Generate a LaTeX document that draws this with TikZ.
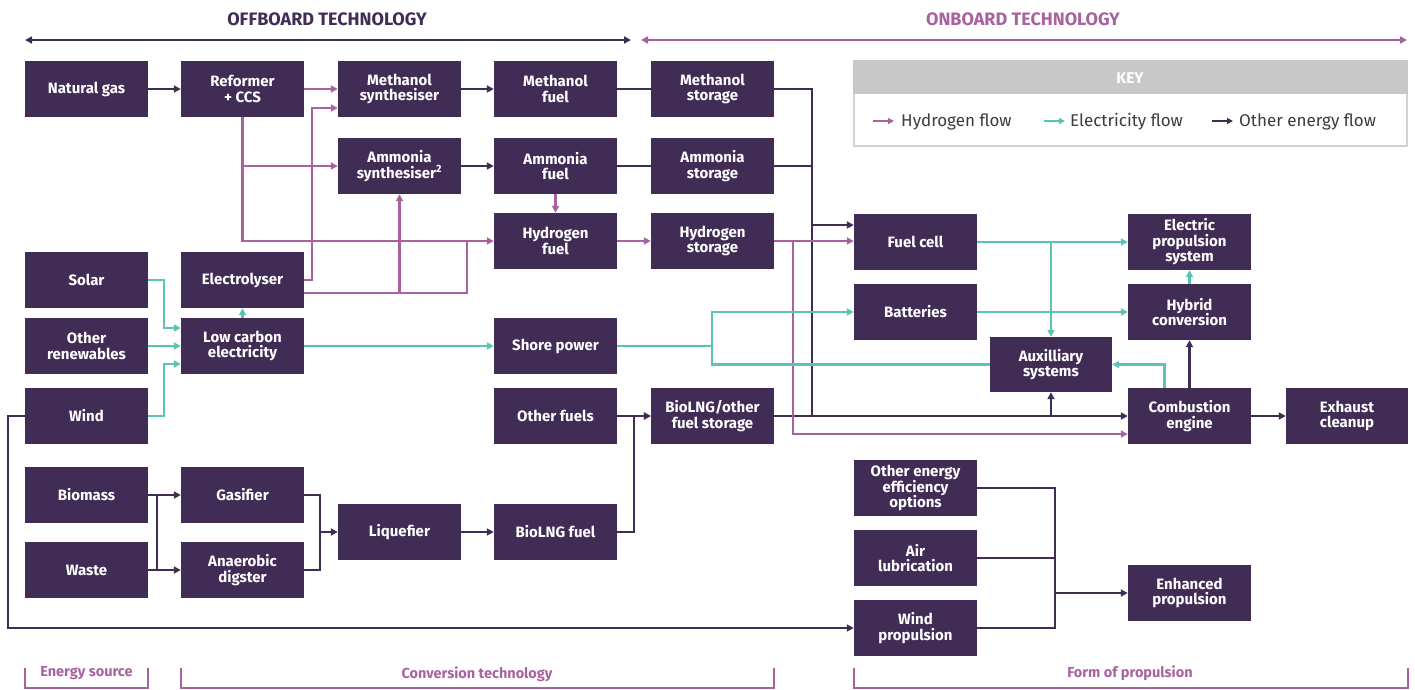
\documentclass[tikz,border=0pt]{standalone}
\usepackage{fontspec}
\setmainfont{Fira Sans}
\usetikzlibrary{arrows.meta,calc}
\definecolor{boxc}{HTML}{412C56}
\definecolor{pinkc}{HTML}{A8629F}
\definecolor{tealc}{HTML}{5BC3B4}
\definecolor{keygray}{HTML}{C8C8C8}
\definecolor{keyline}{HTML}{D2D2D2}
\definecolor{keytext}{HTML}{3C3C3C}
\tikzset{
  box/.style={fill=boxc,text=white,minimum width=123pt,minimum height=56pt,inner sep=0pt,align=center,
    font=\bfseries\fontsize{15}{15.5}\selectfont},
  tip/.style={-{Triangle[length=7pt,width=7pt]}},
  oth/.style={draw=boxc,line width=2.3pt},
  hyd/.style={draw=pinkc,line width=2.3pt},
  ele/.style={draw=tealc,line width=2.3pt},
  brk/.style={draw=pinkc,line width=2pt},
  brktext/.style={text=pinkc,font=\bfseries\fontsize{14.5}{16}\selectfont},
  keyitem/.style={text=keytext,anchor=west,font=\fontsize{17}{19}\selectfont,inner sep=0pt},
}
\begin{document}
\begin{tikzpicture}[x=1pt,y=-1pt]
\useasboundingbox (0,0) rectangle (1415,689);
% titles
\node[text=boxc,font=\bfseries\fontsize{18}{20}\selectfont] (toff) at (327,19) {OFFBOARD TECHNOLOGY};
\node[text=pinkc,font=\bfseries\fontsize{18}{20}\selectfont] (ton) at (1023,19) {ONBOARD TECHNOLOGY};
\coordinate (offL) at (25,40); \coordinate (offR) at (631,40);
\coordinate (onL) at (641,40); \coordinate (onR) at (1407,40);
\draw[oth,line width=2pt,{Triangle[length=7pt,width=7pt]}-{Triangle[length=7pt,width=7pt]}] (offL) -- (offR);
\draw[hyd,line width=2pt,{Triangle[length=7pt,width=7pt]}-{Triangle[length=7pt,width=7pt]}] (onL) -- (onR);
% key
\draw[keyline,line width=2.5pt,fill=white] (854,61) rectangle (1407,146);
\fill[keygray] (853,60) rectangle (1408,94);
\node[text=white,font=\bfseries\fontsize{15.5}{17}\selectfont] (keyt) at (1130,78) {KEY};
\coordinate (k1a) at (873,121); \coordinate (k1b) at (894,121);
\coordinate (k2a) at (1044,121); \coordinate (k2b) at (1065,121);
\coordinate (k3a) at (1212,121); \coordinate (k3b) at (1233,121);
\draw[hyd,line width=2pt,-{Triangle[length=6pt,width=6pt]}] (k1a) -- (k1b);
\draw[ele,line width=2pt,-{Triangle[length=6pt,width=6pt]}] (k2a) -- (k2b);
\draw[oth,line width=2pt,-{Triangle[length=6pt,width=6pt]}] (k3a) -- (k3b);
\node[keyitem] (k1) at (901,122) {Hydrogen flow};
\node[keyitem] (k2) at (1070,122) {Electricity flow};
\node[keyitem] (k3) at (1239,122) {Other energy flow};
% boxes
\node[box] (ng)  at (86.5,89) {Natural gas};
\node[box] (ref) at (242.5,89) {Reformer\\+ CCS};
\node[box] (msy) at (399.5,89) {Methanol\\synthesiser};
\node[box] (mfu) at (555.5,89) {Methanol\\fuel};
\node[box] (mst) at (712.5,89) {Methanol\\storage};
\node[box] (asy) at (399.5,166) {Ammonia\\synthesiser\textsuperscript{2}};
\node[box] (afu) at (555.5,166) {Ammonia\\fuel};
\node[box] (ast) at (712.5,166) {Ammonia\\storage};
\node[box] (hfu) at (555.5,241) {Hydrogen\\fuel};
\node[box] (hst) at (712.5,241) {Hydrogen\\storage};
\node[box] (sol) at (86.5,280) {Solar};
\node[box] (ely) at (242.5,280) {Electrolyser};
\node[box] (orn) at (86.5,346) {Other\\renewables};
\node[box] (lce) at (242.5,346) {Low carbon\\electricity};
\node[box] (sp)  at (555.5,346) {Shore power};
\node[box] (wnd) at (86.5,416) {Wind};
\node[box] (ofu) at (555.5,416) {Other fuels};
\node[box] (bst) at (712.5,416) {BioLNG/other\\fuel storage};
\node[box] (bio) at (86.5,495) {Biomass};
\node[box] (gas) at (242.5,495) {Gasifier};
\node[box] (was) at (86.5,570) {Waste};
\node[box] (ana) at (242.5,570) {Anaerobic\\digster};
\node[box] (liq) at (399.5,532) {Liquefier};
\node[box] (blf) at (555.5,532) {BioLNG fuel};
\node[box] (fc)  at (915.5,242) {Fuel cell};
\node[box] (bat) at (915.5,312) {Batteries};
\node[box,minimum width=122pt,minimum height=55pt] (aux) at (1051,364.5) {Auxilliary\\systems};
\node[box] (eps) at (1189.5,242) {Electric\\propulsion\\system};
\node[box] (hyb) at (1189.5,312) {Hybrid\\conversion};
\node[box] (ce)  at (1189.5,416) {Combustion\\engine};
\node[box,minimum width=122pt] (exh) at (1347,416) {Exhaust\\cleanup};
\node[box] (oee) at (915.5,488) {Other energy\\efficiency\\options};
\node[box] (air) at (915.5,558) {Air\\lubrication};
\node[box] (wp)  at (915.5,628) {Wind\\propulsion};
\node[box] (enh) at (1189.5,593) {Enhanced\\propulsion};
% ---------- other energy flows
\draw[oth,tip] (ng.east) -- (ref.west);
\draw[oth,tip] (msy.east) -- (mfu.west);
\draw[oth,tip] (asy.east) -- (afu.west);
\draw[oth] (mfu.east) -- (mst.west);
\draw[oth] (afu.east) -- (ast.west);
\coordinate (busD) at (812,416);
\draw[oth] (mst.east) -| (busD);
\draw[oth] (ast.east) -- (ast.east -| busD);
\draw[oth,tip] ([yshift=17pt]fc.west -| busD) -- ([yshift=17pt]fc.west);
\draw[oth,tip] (bst.east) -- (ce.west);
\draw[oth,tip] (aux.south |- ce.west) -- (aux.south);
\draw[oth,tip] (ce.east) -- (exh.west);
\draw[oth,tip] (ce.north) -- (hyb.south);
\draw[oth,tip] (bio.east) -- (gas.west);
\draw[oth,tip] (was.east) -- (ana.west);
\draw[oth] ($(bio.east)+(9,0)$) -- ($(was.east)+(9,0)$);
\coordinate (jL) at ($(liq.west)+(-18,0)$);
\draw[oth] (gas.east) -| (jL);
\draw[oth] (ana.east) -| (jL);
\draw[oth,tip] (jL) -- (liq.west);
\draw[oth,tip] (liq.east) -- (blf.west);
\draw[oth,tip] (blf.east) -- ++(17,0) |- (bst.west);
\draw[oth,tip] (ofu.east) -- (bst.west);
\coordinate (wL) at (8,628);
\draw[oth,tip] (wnd.west) -| (wL) -- (wp.west);
\coordinate (jE) at (1055,593);
\draw[oth] (oee.east) -| (jE);
\draw[oth] (air.east) -- (air.east -| jE);
\draw[oth] (wp.east) -| (jE);
\draw[oth,tip] (jE) -- (enh.west);
% ---------- hydrogen flows
\draw[hyd,tip] (ref.east) -- (msy.west);
\draw[hyd,tip] (ely.east) -- ++(8,0) |- ([yshift=-19pt]msy.west);
\draw[hyd,tip] (ref.south) |- (hfu.west);
\draw[hyd,tip] (ref.south |- asy.west) -- (asy.west);
\coordinate (eLow) at ([yshift=-13pt]ely.east);
\draw[hyd] (eLow) -- (eLow -| 467,0) -- (467,241);
\draw[hyd,tip] (eLow -| asy.south) -- (asy.south);
\draw[hyd,tip] (afu.south) -- (hfu.north);
\draw[hyd,tip] (hfu.east) -- (hst.west);
\draw[hyd,tip] (hst.east) -- (hst.east -| fc.west);
\draw[hyd,tip] (793,241) |- ([yshift=-18pt]ce.west);
% ---------- electricity flows
\draw[ele,tip] (sol.east) -- ++(16,0) |- ([yshift=18pt]lce.west);
\draw[ele,tip] (orn.east) -- (lce.west);
\draw[ele,tip] (wnd.east) -- ++(16,0) |- ([yshift=-18pt]lce.west);
\draw[ele,tip] (lce.north) -- (ely.south);
\draw[ele,tip] (lce.east) -- (sp.west);
\coordinate (jS) at (712,346);
\draw[ele] (sp.east) -- (jS);
\draw[ele,tip] (jS) |- (bat.west);
\draw[ele] (jS) |- (aux.west);
\draw[ele,tip] (fc.east) -- (eps.west);
\draw[ele,tip] (fc.east -| aux.north) -- (aux.north);
\draw[ele,tip] (bat.east) -- (hyb.west);
\draw[ele,tip] (hyb.north) -- (eps.south);
\draw[ele,tip] ([xshift=-25pt]ce.north) |- (aux.east);
% ---------- brackets
\draw[brk] (25,668) -- (25,688) -- (148,688) -- (148,668);
\draw[brk] (181,668) -- (181,688) -- (774,688) -- (774,668);
\draw[brk] (854,668) -- (854,688) -- (1408,688) -- (1408,668);
\node[brktext] (b1) at (86.5,673) {Energy source};
\node[brktext] (b2) at (477,674) {Conversion technology};
\node[brktext] (b3) at (1130,673) {Form of propulsion};
\end{tikzpicture}
\end{document}
